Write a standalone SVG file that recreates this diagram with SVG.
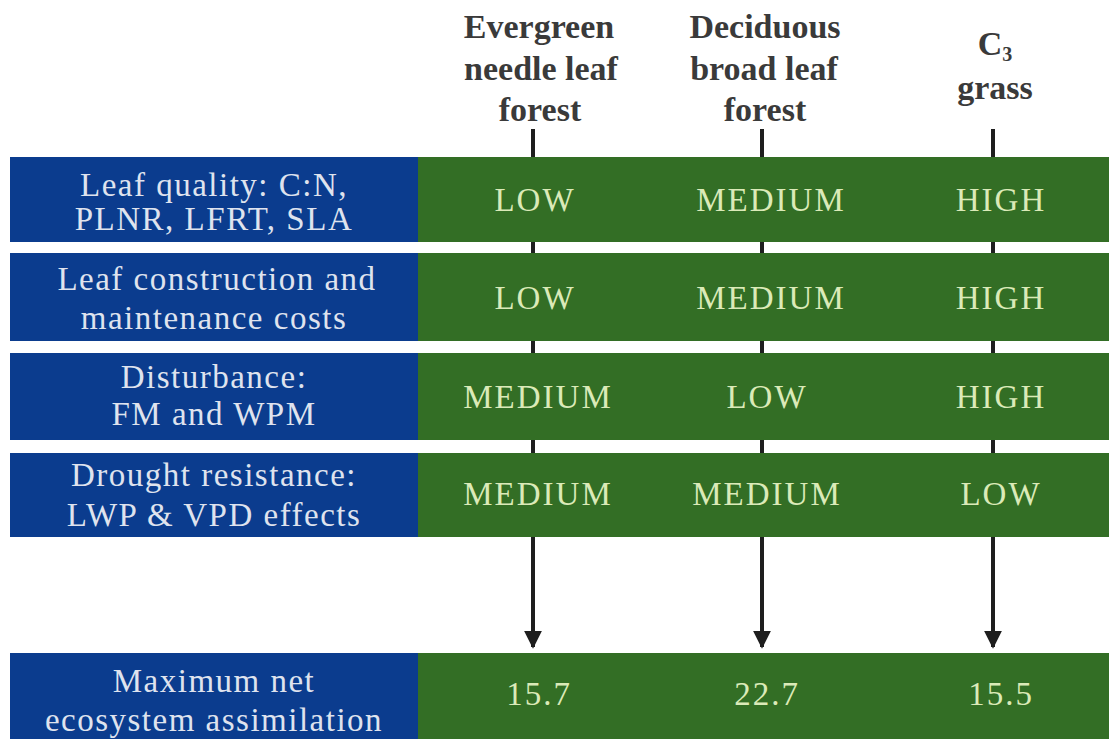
<svg xmlns="http://www.w3.org/2000/svg" width="1109" height="739" viewBox="0 0 1109 739" font-family="Liberation Serif, Times New Roman, serif">
<style>
.blue{fill:#0b3c8e}
.green{fill:#336e25}
.lt{font-family:"Liberation Serif","Times New Roman",serif;font-size:33px;fill:#dfe3ee;letter-spacing:1.5px;text-anchor:middle}
.gt{font-family:"Liberation Serif","Times New Roman",serif;font-size:33px;fill:#dbeab8;letter-spacing:2px;text-anchor:middle}
.ht{font-family:"Liberation Serif","Times New Roman",serif;font-size:34px;font-weight:bold;fill:#3a3a3a;text-anchor:middle}
.ln{stroke:#1e1e1e;stroke-width:4;fill:none}
</style>
<defs>
<marker id="ah" viewBox="0 0 10 10" refX="9" refY="5" markerWidth="4.5" markerHeight="4.5" orient="auto" markerUnits="strokeWidth">
<path d="M0,0 L10,5 L0,10 z" fill="#1e1e1e"/>
</marker>
</defs>
<rect width="1109" height="739" fill="#ffffff"/>
<g id="header-evergreen">
<text class="ht" x="539" y="38">Evergreen</text>
<text class="ht" x="541" y="80">needle leaf</text>
<text class="ht" x="540" y="121">forest</text>
</g>
<g id="header-deciduous">
<text class="ht" x="765" y="38">Deciduous</text>
<text class="ht" x="764" y="80">broad leaf</text>
<text class="ht" x="765" y="121">forest</text>
</g>
<g id="header-c3">
<text class="ht" x="995" y="55">C<tspan font-size="20" dy="6">3</tspan></text>
<text class="ht" x="995" y="99">grass</text>
</g>
<g id="row-leaf-quality">
<rect class="blue" x="10" y="157" width="408" height="85"/>
<rect class="green" x="418" y="157" width="691" height="85"/>
<text class="lt" x="214" y="196">Leaf quality: C:N,</text>
<text class="lt" x="214" y="230">PLNR, LFRT, SLA</text>
<text class="gt" x="535" y="211">LOW</text>
<text class="gt" x="771" y="211">MEDIUM</text>
<text class="gt" x="1001" y="211">HIGH</text>
</g>
<g id="row-leaf-construction">
<rect class="blue" x="10" y="253" width="408" height="88"/>
<rect class="green" x="418" y="253" width="691" height="88"/>
<text class="lt" x="217" y="290">Leaf construction and</text>
<text class="lt" x="214" y="329">maintenance costs</text>
<text class="gt" x="535" y="309">LOW</text>
<text class="gt" x="771" y="309">MEDIUM</text>
<text class="gt" x="1001" y="309">HIGH</text>
</g>
<g id="row-disturbance">
<rect class="blue" x="10" y="353" width="408" height="87"/>
<rect class="green" x="418" y="353" width="691" height="87"/>
<text class="lt" x="214" y="388">Disturbance:</text>
<text class="lt" x="214" y="425">FM and WPM</text>
<text class="gt" x="538" y="408">MEDIUM</text>
<text class="gt" x="767" y="408">LOW</text>
<text class="gt" x="1001" y="408">HIGH</text>
</g>
<g id="row-drought">
<rect class="blue" x="10" y="453" width="408" height="84"/>
<rect class="green" x="418" y="453" width="691" height="84"/>
<text class="lt" x="214" y="486">Drought resistance:</text>
<text class="lt" x="214" y="526">LWP &amp; VPD effects</text>
<text class="gt" x="538" y="505">MEDIUM</text>
<text class="gt" x="767" y="505">MEDIUM</text>
<text class="gt" x="1001" y="505">LOW</text>
</g>
<g id="row-max-nea">
<rect class="blue" x="10" y="653" width="408" height="86"/>
<rect class="green" x="418" y="653" width="691" height="86"/>
<text class="lt" x="214" y="692">Maximum net</text>
<text class="lt" x="214" y="731">ecosystem assimilation</text>
<text class="gt" x="539" y="705">15.7</text>
<text class="gt" x="767" y="705">22.7</text>
<text class="gt" x="1001" y="705">15.5</text>
</g>
<g id="connectors">
<line class="ln" x1="533" y1="129" x2="533" y2="157"/>
<line class="ln" x1="762" y1="129" x2="762" y2="157"/>
<line class="ln" x1="993" y1="129" x2="993" y2="157"/>
<line class="ln" x1="533" y1="242" x2="533" y2="253"/>
<line class="ln" x1="762" y1="242" x2="762" y2="253"/>
<line class="ln" x1="993" y1="242" x2="993" y2="253"/>
<line class="ln" x1="533" y1="341" x2="533" y2="353"/>
<line class="ln" x1="762" y1="341" x2="762" y2="353"/>
<line class="ln" x1="993" y1="341" x2="993" y2="353"/>
<line class="ln" x1="533" y1="440" x2="533" y2="453"/>
<line class="ln" x1="762" y1="440" x2="762" y2="453"/>
<line class="ln" x1="993" y1="440" x2="993" y2="453"/>
<line class="ln" x1="533" y1="537" x2="533" y2="647" marker-end="url(#ah)"/>
<line class="ln" x1="762" y1="537" x2="762" y2="647" marker-end="url(#ah)"/>
<line class="ln" x1="993" y1="537" x2="993" y2="647" marker-end="url(#ah)"/>
</g>
</svg>
